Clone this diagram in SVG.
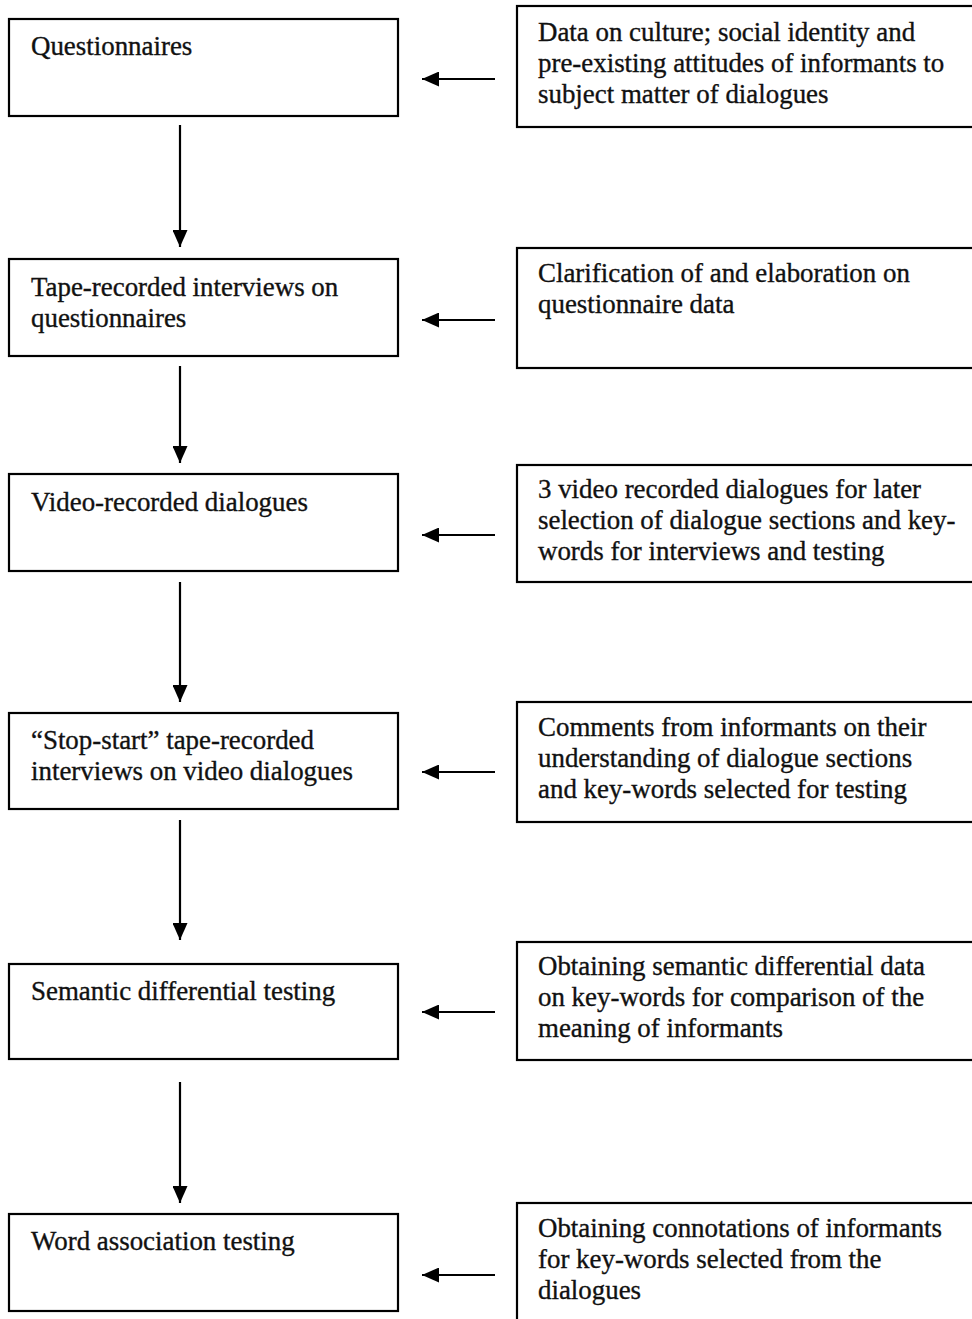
<svg xmlns="http://www.w3.org/2000/svg" width="972" height="1319" viewBox="0 0 972 1319">
<style>
.box{fill:#fff;stroke:#000;stroke-width:2.2}
.t{font-family:"Liberation Serif","Times New Roman",serif;font-size:26.9px;fill:#111;stroke:#111;stroke-width:0.35}
.c{stroke:#000;stroke-width:2.2;fill:none}
</style>
<defs>
<marker id="ah" markerWidth="17" markerHeight="15" refX="17" refY="7.5" orient="auto" markerUnits="userSpaceOnUse">
<path d="M0,0 L17,7.5 L0,15 Z" fill="#000"/>
</marker>
</defs>
<rect width="972" height="1319" fill="#fff"/>
<g id="n1"><rect class="box" x="9" y="19" width="389" height="97"/><text class="t" x="31" y="55">Questionnaires</text></g>
<g id="n2"><rect class="box" x="9" y="259" width="389" height="97"/><text class="t" x="31" y="296">Tape-recorded interviews on</text><text class="t" x="31" y="327">questionnaires</text></g>
<g id="n3"><rect class="box" x="9" y="474" width="389" height="97"/><text class="t" x="31" y="511">Video-recorded dialogues</text></g>
<g id="n4"><rect class="box" x="9" y="713" width="389" height="96"/><text class="t" x="31" y="749">“Stop-start” tape-recorded</text><text class="t" x="31" y="780">interviews on video dialogues</text></g>
<g id="n5"><rect class="box" x="9" y="964" width="389" height="95"/><text class="t" x="31" y="1000">Semantic differential testing</text></g>
<g id="n6"><rect class="box" x="9" y="1214" width="389" height="97"/><text class="t" x="31" y="1250">Word association testing</text></g>
<g id="r1"><rect class="box" x="517" y="6" width="470" height="121"/><text class="t" x="538" y="41">Data on culture; social identity and</text><text class="t" x="538" y="72">pre-existing attitudes of informants to</text><text class="t" x="538" y="103">subject matter of dialogues</text></g>
<g id="r2"><rect class="box" x="517" y="248" width="470" height="120"/><text class="t" x="538" y="282">Clarification of and elaboration on</text><text class="t" x="538" y="313">questionnaire data</text></g>
<g id="r3"><rect class="box" x="517" y="465" width="470" height="117"/><text class="t" x="538" y="498">3 video recorded dialogues for later</text><text class="t" x="538" y="529">selection of dialogue sections and key-</text><text class="t" x="538" y="560">words for interviews and testing</text></g>
<g id="r4"><rect class="box" x="517" y="702" width="470" height="120"/><text class="t" x="538" y="736">Comments from informants on their</text><text class="t" x="538" y="767">understanding of dialogue sections</text><text class="t" x="538" y="798">and key-words selected for testing</text></g>
<g id="r5"><rect class="box" x="517" y="942" width="470" height="118"/><text class="t" x="538" y="975">Obtaining semantic differential data</text><text class="t" x="538" y="1006">on key-words for comparison of the</text><text class="t" x="538" y="1037">meaning of informants</text></g>
<g id="r6"><rect class="box" x="517" y="1203" width="470" height="130"/><text class="t" x="538" y="1237">Obtaining connotations of informants</text><text class="t" x="538" y="1268">for key-words selected from the</text><text class="t" x="538" y="1299">dialogues</text></g>
<g id="connectors">
<line class="c" x1="180" y1="125" x2="180" y2="247" marker-end="url(#ah)"/>
<line class="c" x1="180" y1="366" x2="180" y2="463" marker-end="url(#ah)"/>
<line class="c" x1="180" y1="582" x2="180" y2="702" marker-end="url(#ah)"/>
<line class="c" x1="180" y1="820" x2="180" y2="940" marker-end="url(#ah)"/>
<line class="c" x1="180" y1="1082" x2="180" y2="1203" marker-end="url(#ah)"/>
<line class="c" x1="495" y1="79" x2="422" y2="79" marker-end="url(#ah)"/>
<line class="c" x1="495" y1="320" x2="422" y2="320" marker-end="url(#ah)"/>
<line class="c" x1="495" y1="535" x2="422" y2="535" marker-end="url(#ah)"/>
<line class="c" x1="495" y1="772" x2="422" y2="772" marker-end="url(#ah)"/>
<line class="c" x1="495" y1="1012" x2="422" y2="1012" marker-end="url(#ah)"/>
<line class="c" x1="495" y1="1275" x2="422" y2="1275" marker-end="url(#ah)"/>
</g>
</svg>
